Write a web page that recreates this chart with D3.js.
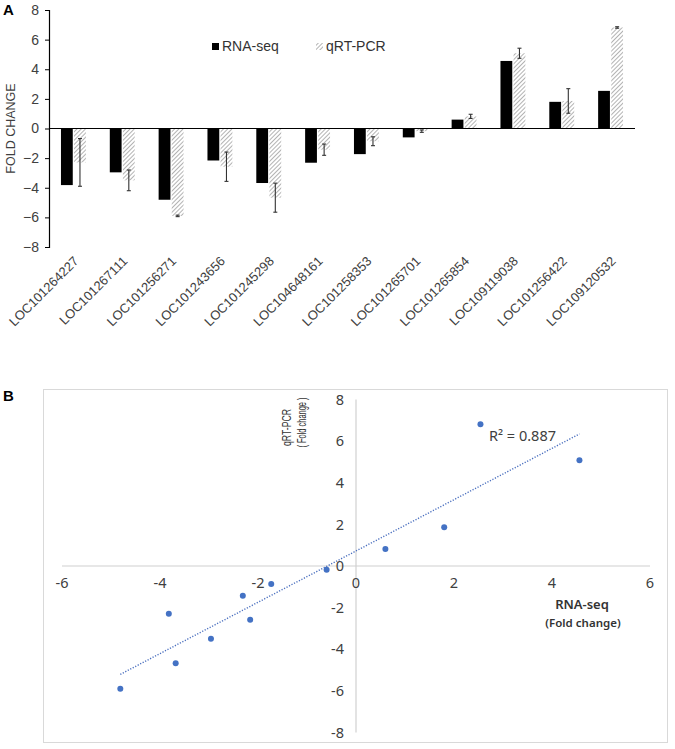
<!DOCTYPE html>
<html><head><meta charset="utf-8">
<script src="https://cdn.jsdelivr.net/npm/d3@7"></script>
<style>body{margin:0;background:#fff}svg{display:block}</style>
</head><body>
<svg id="c" width="675" height="749"></svg>
<script>
const genes = ["LOC101264227","LOC101267111","LOC101256271","LOC101243656","LOC101245298","LOC104648161","LOC101258353","LOC101265701","LOC101265854","LOC109119038","LOC101256422","LOC109120532"];
const rnaSeq = [-3.82,-2.96,-4.81,-2.16,-3.68,-2.31,-1.73,-0.60,0.60,4.56,1.80,2.54];
const qrtPcr = [-2.29,-3.50,-5.90,-2.58,-4.67,-1.43,-0.86,-0.18,0.82,5.08,1.86,6.82];
const qrtErr = [1.61,0.70,0.05,0.99,0.98,0.38,0.30,0.08,0.14,0.34,0.83,0.05];
const seriesNames = ["RNA-seq","qRT-PCR"];
const yTicksA = [-8,-6,-4,-2,0,2,4,6,8];
const xTicksB = [-6,-4,-2,0,2,4,6];
const yTicksB = [-8,-6,-4,-2,0,2,4,6,8];

const svg = d3.select("#c");
const defs = svg.append("defs");
const pat = defs.append("pattern").attr("id","hatch").attr("patternUnits","userSpaceOnUse")
  .attr("width",3).attr("height",3).attr("patternTransform","rotate(45)");
pat.append("rect").attr("width",3).attr("height",3).attr("fill","#fff");
pat.append("line").attr("x1",0).attr("y1",0).attr("x2",0).attr("y2",3).attr("stroke","#8a8a8a").attr("stroke-width",1.3);

// ---------- Panel A ----------
const A = svg.append("g");
const x0 = d3.scaleBand().domain(genes).range([49,635]).paddingInner(0.49).paddingOuter(0.245);
const x1 = d3.scaleBand().domain(seriesNames).range([0,x0.bandwidth()]).paddingInner(0.1);
const yA = d3.scaleLinear().domain([-8,8]).range([247,10]);

A.append("text").attr("x",3).attr("y",15).attr("font-family","Liberation Sans, Arial, sans-serif")
  .attr("font-weight","bold").attr("font-size",15).text("A");

const yAxisA = A.append("g").attr("transform","translate(49,0)")
  .call(d3.axisLeft(yA).tickValues(yTicksA).tickSize(4).tickPadding(6).tickFormat(d3.format("d")));
yAxisA.select(".domain").attr("stroke","#000").attr("stroke-width",1.2);
yAxisA.selectAll(".tick line").attr("stroke","#000");
yAxisA.selectAll(".tick text").attr("font-family","Liberation Sans, Arial, sans-serif").attr("font-size",14).attr("fill","#404040");

A.append("text").attr("transform",`translate(15,${yA(0)}) rotate(-90)`).attr("text-anchor","middle")
  .attr("font-family","Liberation Sans, Arial, sans-serif").attr("font-size",12.5).attr("fill","#404040").text("FOLD CHANGE");

const rows = genes.map((g,i)=>({g, v:[rnaSeq[i],qrtPcr[i]], e:qrtErr[i]}));
const grp = A.selectAll("g.grp").data(rows).join("g").attr("class","grp")
  .attr("transform",d=>`translate(${x0(d.g)},0)`);
grp.selectAll("rect").data(d=>seriesNames.map((s,k)=>({s, v:d.v[k]}))).join("rect")
  .attr("x",d=>x1(d.s)).attr("width",x1.bandwidth())
  .attr("y",d=>yA(Math.max(0,d.v))).attr("height",d=>Math.abs(yA(d.v)-yA(0)))
  .attr("fill",d=>d.s==="RNA-seq"?"#000":"url(#hatch)");
// error bars
const eb = grp.append("g").attr("stroke","#333").attr("stroke-width",1.1);
const cxE = x1("qRT-PCR")+x1.bandwidth()/2;
eb.append("line").attr("x1",cxE).attr("x2",cxE).attr("y1",d=>yA(d.v[1]+d.e)).attr("y2",d=>yA(d.v[1]-d.e));
eb.append("line").attr("x1",cxE-2).attr("x2",cxE+2).attr("y1",d=>yA(d.v[1]+d.e)).attr("y2",d=>yA(d.v[1]+d.e));
eb.append("line").attr("x1",cxE-2).attr("x2",cxE+2).attr("y1",d=>yA(d.v[1]-d.e)).attr("y2",d=>yA(d.v[1]-d.e));

// zero line
A.append("line").attr("x1",49).attr("x2",635).attr("y1",yA(0)).attr("y2",yA(0)).attr("stroke","#000").attr("stroke-width",1.2);

// x labels
A.selectAll("text.xl").data(genes).join("text").attr("class","xl")
  .attr("transform",d=>`translate(${x0(d)+x0.bandwidth()/2+6},262) rotate(-45)`)
  .attr("text-anchor","end").attr("font-family","Liberation Sans, Arial, sans-serif")
  .attr("font-size",13).attr("fill","#404040").text(d=>d);

// legend
const leg = A.append("g");
const legX = [212,316];
seriesNames.forEach((s,k)=>{
  leg.append("rect").attr("x",legX[k]).attr("y",43).attr("width",7).attr("height",7)
    .attr("fill",k===0?"#000":"url(#hatch)");
  leg.append("text").attr("x",legX[k]+10).attr("y",51).attr("font-family","Liberation Sans, Arial, sans-serif")
    .attr("font-size",14).attr("fill","#333").text(s);
});

// ---------- Panel B ----------
const B = svg.append("g");
B.append("text").attr("x",3).attr("y",401).attr("font-family","Liberation Sans, Arial, sans-serif")
  .attr("font-weight","bold").attr("font-size",15).text("B");
B.append("rect").attr("x",43.5).attr("y",389.5).attr("width",624).attr("height",353)
  .attr("fill","none").attr("stroke","#d9d9d9");

const xB = d3.scaleLinear().domain([-6,6]).range([62,650]);
const yB = d3.scaleLinear().domain([-8,8]).range([732.4,399.6]);

B.append("line").attr("x1",xB(-6)).attr("x2",xB(6)).attr("y1",yB(0)).attr("y2",yB(0)).attr("stroke","#d0d0d0").attr("stroke-width",1.2);
B.append("line").attr("x1",xB(0)).attr("x2",xB(0)).attr("y1",yB(8)).attr("y2",yB(-8)).attr("stroke","#d0d0d0").attr("stroke-width",1.2);

const fB = "Noto Sans, Open Sans, sans-serif";
B.selectAll("text.xt").data(xTicksB).join("text").attr("class","xt")
  .attr("x",d=>xB(d)).attr("y",yB(0)+22).attr("text-anchor","middle")
  .attr("font-family",fB).attr("font-size",14.5).attr("fill","#404040").text(d=>d);
B.selectAll("text.yt").data(yTicksB).join("text").attr("class","yt")
  .attr("x",xB(0)-12).attr("y",d=>yB(d)).attr("dy","0.36em").attr("text-anchor","end")
  .attr("font-family",fB).attr("font-size",14.5).attr("fill","#404040").text(d=>d);

// trendline (least squares)
const n = rnaSeq.length;
const mx = d3.mean(rnaSeq), my = d3.mean(qrtPcr);
let sxy=0,sxx=0,syy=0;
for(let i=0;i<n;i++){const dx=rnaSeq[i]-mx, dy=qrtPcr[i]-my; sxy+=dx*dy; sxx+=dx*dx; syy+=dy*dy;}
const slope = sxy/sxx, icpt = my - slope*mx, r2 = sxy*sxy/(sxx*syy);
const xmin = d3.min(rnaSeq), xmax = d3.max(rnaSeq);
B.append("line").attr("x1",xB(xmin)).attr("y1",yB(icpt+slope*xmin)).attr("x2",xB(xmax)).attr("y2",yB(icpt+slope*xmax))
  .attr("stroke","#4a6fbf").attr("stroke-width",1.4).attr("stroke-dasharray","1.2,1.6");

B.selectAll("circle").data(rnaSeq.map((v,i)=>[v,qrtPcr[i]])).join("circle")
  .attr("cx",d=>xB(d[0])).attr("cy",d=>yB(d[1])).attr("r",3).attr("fill","#4472c4");

B.append("text").attr("x",489).attr("y",441).attr("font-family",fB).attr("font-size",14.5).attr("fill","#404040")
  .text("R² = " + r2.toFixed(3));

// axis titles
B.append("text").attr("transform","translate(291,427.5) rotate(-90)").attr("text-anchor","middle")
  .attr("font-family","Liberation Sans, Arial, sans-serif").attr("font-size",12.5).attr("fill","#333")
  .attr("textLength",37).attr("lengthAdjust","spacingAndGlyphs").text("qRT-PCR");
B.append("text").attr("transform","translate(306,422.5) rotate(-90)").attr("text-anchor","middle")
  .attr("font-family","Liberation Sans, Arial, sans-serif").attr("font-size",12.5).attr("fill","#333")
  .attr("textLength",50).attr("lengthAdjust","spacingAndGlyphs").text("( Fold change )");
B.append("text").attr("x",582).attr("y",609).attr("text-anchor","middle").attr("font-family",fB)
  .attr("font-size",13).attr("font-weight",600).attr("fill","#333").text("RNA-seq");
B.append("text").attr("x",583).attr("y",627).attr("text-anchor","middle").attr("font-family",fB)
  .attr("font-size",11.5).attr("font-weight",600).attr("fill","#333").text("(Fold change)");
</script>
</body></html>
